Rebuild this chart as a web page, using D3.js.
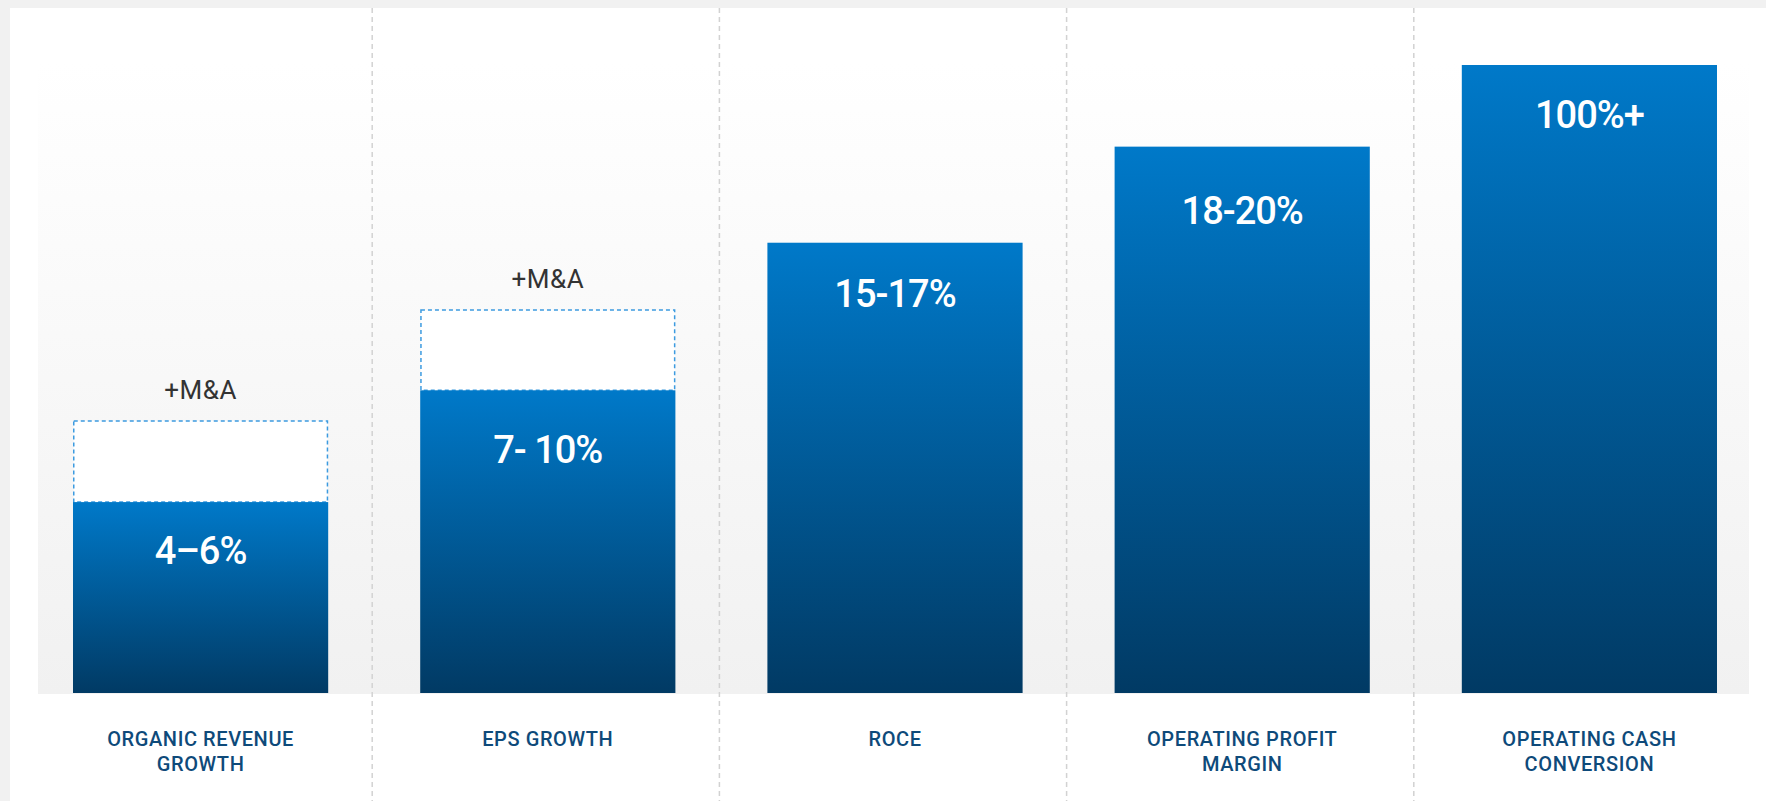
<!DOCTYPE html>
<html>
<head>
<meta charset="utf-8">
<script src="https://cdn.jsdelivr.net/npm/d3@7"></script>
<style>
    body { margin: 0; background: #f1f1f1; overflow: hidden; }
    #targets { position: absolute; left: 0; top: 0; }
</style>
</head>
<body>
<div id="targets"></div>
<script>

// categories (label lines) and bar values
var categories = ["ORGANIC REVENUE GROWTH", "EPS GROWTH", "ROCE", "OPERATING PROFIT MARGIN", "OPERATING CASH CONVERSION"];
var categoryLines = [["ORGANIC REVENUE", "GROWTH"], ["EPS GROWTH"], ["ROCE"], ["OPERATING PROFIT", "MARGIN"], ["OPERATING CASH", "CONVERSION"]];
var valueLabels = ["4–6%", "7- 10%", "15-17%", "18-20%", "100%+"];
var barValues = [30.4, 48.2, 71.7, 87.0, 100];
var maValues = [43.3, 61.0, null, null, null];   // "+M&A" extension (dashed box)
var maLabel = "+M&A";

class TargetChart {

    width; height; svg; xScale; yScale;

    constructor(width, height)
    {
        this.width = width;
        this.height = height;
        this.svg = d3.select("#targets").append("svg")
                    .attr("width", width)
                    .attr("height", height);
        this.xScale = d3.scaleBand()
                    .domain(categories)
                    .range([27, 1763])
                    .paddingInner(0.265)
                    .paddingOuter(0.1325);
        this.yScale = d3.scaleLinear().domain([0, 100]).range([693, 65]);
        this.createDefs();
        this.drawBackground();
        this.drawBars();
        this.drawLabels();
    }

    createDefs()
    {
        var defs = this.svg.append("defs");
        var bg = defs.append("linearGradient").attr("id", "bgGrad")
                    .attr("x1", 0).attr("y1", 0).attr("x2", 0).attr("y2", 1);
        bg.append("stop").attr("offset", "0%").attr("stop-color", "#ffffff");
        bg.append("stop").attr("offset", "100%").attr("stop-color", "#f1f1f1");

        var bar = defs.append("linearGradient").attr("id", "barGrad")
                    .attr("x1", 0).attr("y1", 0).attr("x2", 0).attr("y2", 1);
        bar.append("stop").attr("offset", "0%").attr("stop-color", "#0079c9");
        bar.append("stop").attr("offset", "100%").attr("stop-color", "#013a64");
    }

    drawBackground()
    {
        this.svg.append("rect")
            .attr("x", 10).attr("y", 8)
            .attr("width", this.width - 10).attr("height", this.height - 8)
            .attr("fill", "#ffffff");
        this.svg.append("rect")
            .attr("x", 38).attr("y", 63)
            .attr("width", 1711).attr("height", 631)
            .attr("fill", "url(#bgGrad)");

        // dashed column dividers
        var step = this.xScale.step();
        var x0 = this.xScale.range()[0] - 2;
        this.svg.selectAll("line.divider")
            .data(d3.range(1, categories.length))
            .join("line")
                .attr("class", "divider")
                .attr("x1", i => x0 + i * step)
                .attr("x2", i => x0 + i * step)
                .attr("y1", 8).attr("y2", this.height)
                .attr("stroke", "#d2d2d2")
                .attr("stroke-width", 1.5)
                .attr("stroke-dasharray", "5,4");
    }

    drawBars()
    {
        var x = this.xScale, y = this.yScale;
        var bw = x.bandwidth();

        // +M&A dashed boxes
        var ma = categories.map((c, i) => ({c: c, v: barValues[i], m: maValues[i]}))
                           .filter(d => d.m != null);
        this.svg.selectAll("rect.ma")
            .data(ma)
            .join("rect")
                .attr("class", "ma")
                .attr("x", d => x(d.c) + 0.75)
                .attr("y", d => y(d.m))
                .attr("width", bw - 1.5)
                .attr("height", d => y(d.v) - y(d.m))
                .attr("fill", "#ffffff")
                .attr("stroke", "#3c9be0")
                .attr("stroke-width", 1.5)
                .attr("stroke-dasharray", "4,3");
        this.svg.selectAll("text.ma")
            .data(ma)
            .join("text")
                .attr("class", "ma")
                .attr("x", d => x(d.c) + bw / 2)
                .attr("y", d => y(d.m) - 22)
                .attr("text-anchor", "middle")
                .attr("font-family", "Roboto, sans-serif")
                .attr("font-size", "26px")
                .attr("letter-spacing", "0.5px")
                .attr("fill", "#333333")
                .text(maLabel);

        this.svg.selectAll("rect.bar")
            .data(barValues)
            .join("rect")
                .attr("class", "bar")
                .attr("x", (d, i) => x(categories[i]))
                .attr("y", d => y(d))
                .attr("width", bw)
                .attr("height", d => y(0) - y(d))
                .attr("fill", "url(#barGrad)");
    }

    drawLabels()
    {
        var x = this.xScale, y = this.yScale;
        var bw = x.bandwidth();
        var valueDy = [62, 73, 64, 77, 63];

        this.svg.selectAll("text.value")
            .data(valueLabels)
            .join("text")
                .attr("class", "value")
                .attr("x", (d, i) => x(categories[i]) + bw / 2)
                .attr("y", (d, i) => y(barValues[i]) + valueDy[i])
                .attr("text-anchor", "middle")
                .attr("font-family", "Roboto, sans-serif")
                .attr("font-weight", 500)
                .attr("font-size", "38px")
                .attr("letter-spacing", "-1px")
                .attr("fill", "#ffffff")
                .text(d => d);

        var cats = this.svg.selectAll("text.cat")
            .data(categories)
            .join("text")
                .attr("class", "cat")
                .attr("x", d => x(d) + bw / 2)
                .attr("y", 746)
                .attr("text-anchor", "middle")
                .attr("font-family", "Roboto, sans-serif")
                .attr("font-weight", 500)
                .attr("font-size", "20px")
                .attr("letter-spacing", "0.6px")
                .attr("fill", "#0e4a7a");
        cats.selectAll("tspan")
            .data((d, i) => categoryLines[i])
            .join("tspan")
                .attr("x", function() { return this.parentNode.getAttribute("x"); })
                .attr("dy", (d, j) => j == 0 ? 0 : 25)
                .text(d => d);
    }
};

var chart = new TargetChart(1766, 801);
</script>
</body>
</html>
